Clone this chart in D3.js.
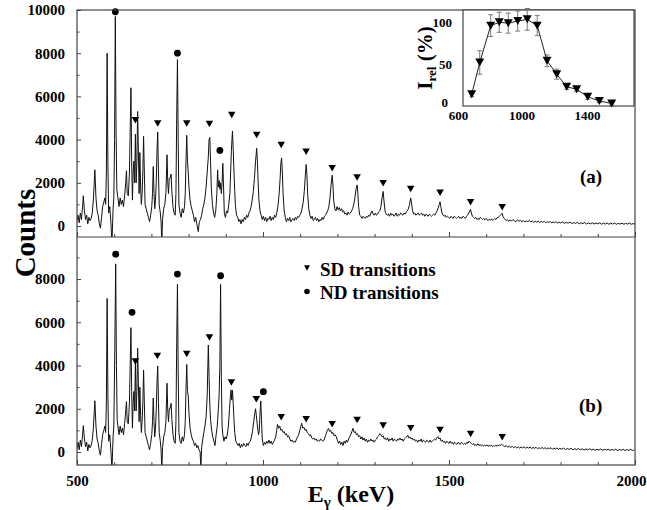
<!DOCTYPE html>
<html><head><meta charset="utf-8">
<script src="https://cdn.jsdelivr.net/npm/d3@7"></script>
<style>
body{margin:0;background:#fff;}
svg{display:block;font-family:"Liberation Serif","Times New Roman",serif;font-weight:bold;}
</style></head>
<body><svg id="c" width="647" height="510"></svg>
<script>
// ---------- DATA ----------
const xTickLabels = [500, 1000, 1500, 2000];
const yTopTicks = [0, 2000, 4000, 6000, 8000, 10000];
const yBotTicks = [0, 2000, 4000, 6000, 8000];
const insetXTicks = [600, 1000, 1400];
const insetYTicks = [0, 50, 100];

const topSpectrum = [[500,200],[503,500],[506,150],[509,600],[512,300],[515,900],[517,1400],[520,700],[523,300],[526,500],[529,100],[532,400],[535,250],[538,350],[541,600],[544,1200],[548,2600],[551,1300],[554,700],[557,500],[560,100],[563,-100],[566,400],[569,900],[572,1100],[575,1300],[577,1000],[579,2500],[581,8000],[583,3000],[585,600],[588,900],[591,200],[594,-800],[597,800],[599,1300],[601,4000],[603,9700],[605,4500],[607,1700],[610,1300],[613,900],[616,1300],[619,1000],[622,1200],[625,900],[628,1400],[631,2000],[633,2560],[635,1500],[638,1400],[641,2500],[645,6400],[647,3000],[649,1200],[651,2500],[653,3000],[655,2000],[657,4250],[659,2000],[661,3000],[663,5300],[665,3500],[667,1500],[669,3400],[671,1800],[673,1000],[675,1500],[677,2500],[679,4150],[681,2500],[683,1000],[686,800],[689,600],[692,400],[695,200],[698,500],[701,900],[703,1500],[705,2750],[707,1500],[709,800],[711,1200],[713,2000],[715,3500],[717,4350],[719,2500],[721,1000],[724,600],[726,200],[728,-800],[730,300],[733,800],[736,1000],[739,1500],[742,3300],[744,2000],[746,1500],[748,2200],[750,2200],[753,2400],[755,1600],[758,900],[761,600],[764,500],[766,1500],[768,5000],[770,7700],[772,4000],[774,1000],[777,600],[780,400],[783,800],[786,600],[789,900],[791,1500],[793,3000],[795,4200],[797,3000],[799,2500],[801,1800],[804,1200],[807,900],[810,700],[813,500],[816,200],[819,400],[822,100],[826,-260],[829,200],[832,300],[835,500],[838,800],[841,1000],[844,1300],[847,1800],[850,2500],[853,3200],[855,4000],[857,4100],[859,3000],[861,1800],[864,1000],[867,600],[870,400],[873,700],[876,1500],[878,2600],[880,1800],[882,2100],[884,1700],[886,2000],[888,1500],[890,2000],[892,2900],[894,1800],[896,600],[899,400],[902,700],[905,600],[908,1000],[911,1500],[913,2500],[915,3500],[917,4100],[918,4400],[920,3500],[922,2500],[924,1600],[926,900],[929,500],[932,400],[935,200],[938,300],[941,100],[944,300],[947,200],[950,400],[953,300],[956,500],[959,400],[962,600],[965,700],[968,900],[971,1200],[974,1600],[977,2200],[980,3000],[983,3600],[985,3000],[987,2000],[989,1200],[992,700],[995,500],[998,300],[1001,450],[1004,250],[1007,400],[1010,200],[1013,350],[1016,300],[1019,450],[1022,250],[1025,400],[1028,300],[1031,500],[1034,400],[1037,600],[1040,900],[1043,1400],[1046,2200],[1048,2900],[1050,3150],[1052,2500],[1054,1500],[1057,700],[1060,400],[1063,200],[1066,350],[1069,250],[1072,400],[1075,200],[1078,300],[1081,350],[1084,250],[1087,400],[1090,300],[1093,450],[1096,400],[1099,500],[1102,600],[1105,800],[1108,1100],[1111,1600],[1114,2400],[1116,2850],[1118,2400],[1120,1500],[1123,800],[1126,500],[1129,350],[1132,450],[1135,250],[1138,300],[1141,400],[1144,250],[1147,350],[1150,200],[1153,300],[1156,250],[1159,400],[1162,300],[1165,450],[1168,500],[1171,600],[1174,700],[1177,900],[1180,1300],[1183,1900],[1186,2350],[1188,1900],[1190,1200],[1193,800],[1196,700],[1199,900],[1202,750],[1205,850],[1208,700],[1211,800],[1214,650],[1217,700],[1220,550],[1223,600],[1226,500],[1229,650],[1232,550],[1235,600],[1238,700],[1241,800],[1244,1000],[1247,1300],[1250,1700],[1253,1900],[1255,1500],[1257,900],[1260,500],[1263,450],[1266,350],[1269,450],[1272,400],[1275,350],[1278,450],[1281,400],[1284,500],[1287,450],[1290,600],[1293,700],[1296,550],[1299,500],[1302,600],[1305,500],[1308,550],[1311,650],[1314,700],[1317,900],[1320,1300],[1323,1600],[1325,1200],[1328,700],[1331,550],[1334,500],[1337,550],[1340,450],[1343,600],[1346,500],[1349,550],[1352,450],[1355,500],[1358,600],[1361,450],[1364,550],[1367,500],[1370,600],[1373,550],[1376,500],[1379,600],[1382,550],[1385,650],[1388,700],[1391,800],[1394,1000],[1397,1300],[1399,1100],[1402,700],[1405,550],[1408,600],[1411,500],[1414,550],[1417,600],[1420,500],[1423,550],[1426,600],[1429,500],[1432,550],[1435,450],[1438,550],[1441,500],[1444,450],[1447,550],[1450,500],[1453,450],[1456,500],[1459,550],[1462,500],[1465,600],[1468,700],[1471,850],[1474,1000],[1476,1120],[1478,900],[1481,600],[1484,500],[1487,450],[1490,500],[1493,400],[1496,450],[1499,400],[1502,350],[1505,450],[1508,400],[1511,350],[1514,450],[1517,400],[1520,350],[1523,400],[1526,450],[1529,350],[1532,400],[1535,350],[1538,450],[1541,400],[1544,350],[1547,450],[1550,500],[1553,600],[1556,700],[1558,770],[1560,600],[1563,450],[1566,400],[1569,350],[1572,400],[1575,300],[1578,350],[1581,300],[1584,400],[1587,350],[1590,300],[1593,350],[1596,280],[1599,350],[1602,300],[1605,250],[1608,320],[1611,280],[1614,330],[1617,260],[1620,300],[1623,350],[1626,300],[1629,380],[1632,400],[1635,450],[1638,500],[1641,550],[1643,590],[1645,450],[1648,350],[1651,300],[1654,250],[1657,300],[1660,220],[1664,280],[1668,230],[1672,300],[1676,240],[1680,200],[1684,280],[1688,220],[1692,260],[1696,200],[1700,250],[1704,180],[1708,240],[1712,200],[1716,260],[1720,190],[1724,230],[1728,170],[1732,220],[1736,180],[1740,230],[1744,160],[1748,210],[1752,170],[1756,220],[1760,150],[1764,200],[1768,160],[1772,210],[1776,140],[1780,190],[1784,150],[1788,200],[1792,130],[1796,180],[1800,140],[1805,190],[1810,120],[1815,170],[1820,130],[1825,180],[1830,110],[1835,160],[1840,120],[1845,170],[1850,100],[1855,150],[1860,110],[1865,160],[1870,90],[1875,140],[1880,100],[1885,150],[1890,90],[1895,140],[1900,100],[1905,150],[1910,80],[1915,130],[1920,90],[1925,140],[1930,80],[1935,130],[1940,90],[1945,140],[1950,80],[1955,120],[1960,90],[1965,130],[1970,80],[1975,120],[1980,90],[1985,130],[1990,80],[1995,110],[2000,90]];

const bottomSpectrum = [[500,150],[503,450],[506,100],[509,550],[512,250],[515,800],[517,1220],[520,600],[523,250],[526,450],[529,50],[532,350],[535,200],[538,300],[541,550],[544,1100],[548,2370],[551,1200],[554,600],[557,400],[560,50],[563,-150],[566,350],[569,800],[572,1000],[575,1200],[577,900],[579,2300],[581,7100],[583,2700],[585,500],[588,800],[591,100],[594,-800],[597,700],[599,1200],[601,3800],[604,8700],[606,4000],[608,1500],[610,1200],[613,800],[616,1200],[619,900],[622,1100],[625,800],[628,1300],[631,1900],[633,2330],[635,1400],[638,1300],[641,2300],[645,5750],[647,2800],[649,1100],[651,2300],[653,2800],[655,1900],[657,4200],[659,1900],[661,2800],[663,4800],[665,3200],[667,1400],[669,3000],[671,1700],[673,900],[675,1400],[677,2300],[679,3790],[681,2300],[683,900],[686,700],[689,500],[692,300],[695,100],[698,400],[701,800],[703,1400],[705,2500],[707,1400],[709,700],[711,1100],[713,1900],[715,3200],[717,3980],[719,2300],[721,900],[724,500],[726,100],[728,-800],[730,200],[733,700],[736,900],[739,1400],[742,3180],[744,1900],[746,1400],[748,2000],[750,2000],[753,2250],[755,1500],[758,800],[761,500],[764,400],[766,1400],[768,5000],[770,7750],[772,3800],[774,900],[777,500],[780,400],[783,700],[786,500],[789,800],[791,1400],[793,2900],[795,4050],[797,2800],[799,2600],[801,1800],[804,1100],[807,800],[810,600],[813,500],[816,300],[819,400],[822,200],[825,300],[828,100],[831,0],[833,-800],[835,200],[838,600],[841,900],[844,1200],[847,1600],[850,2600],[853,4950],[855,3500],[857,2200],[859,1500],[862,1000],[865,700],[868,500],[871,300],[874,800],[877,1200],[880,2000],[882,2600],[884,4000],[886,7750],[888,3500],[890,1200],[892,800],[895,500],[898,700],[901,600],[904,800],[907,1200],[910,2000],[912,2500],[914,2870],[916,2400],[918,2850],[920,2200],[922,1500],[924,900],[927,500],[930,400],[933,300],[936,400],[939,200],[942,350],[945,250],[948,400],[951,300],[954,250],[957,400],[960,300],[963,450],[966,500],[969,700],[972,1000],[975,1400],[978,1800],[980,2000],[982,1700],[985,1200],[988,800],[990,1000],[992,1800],[994,2360],[996,1500],[998,600],[1001,300],[1004,450],[1007,350],[1010,500],[1013,400],[1016,550],[1019,400],[1022,500],[1025,350],[1028,450],[1031,550],[1034,700],[1037,1000],[1039,1280],[1042,1100],[1045,1200],[1048,1000],[1051,1050],[1054,900],[1057,950],[1060,800],[1063,850],[1066,700],[1069,750],[1072,600],[1075,500],[1078,550],[1081,450],[1084,500],[1087,450],[1090,600],[1093,700],[1096,800],[1099,1000],[1102,1200],[1104,1330],[1107,1100],[1110,1150],[1113,1000],[1116,1050],[1119,900],[1122,850],[1125,750],[1128,800],[1131,650],[1134,600],[1137,650],[1140,550],[1143,600],[1146,500],[1149,550],[1152,500],[1155,600],[1158,550],[1161,500],[1164,550],[1167,700],[1170,850],[1173,1000],[1176,1090],[1179,950],[1182,1000],[1185,850],[1188,900],[1191,750],[1194,800],[1197,700],[1200,550],[1203,400],[1206,500],[1209,350],[1212,450],[1215,300],[1218,500],[1221,400],[1224,550],[1227,450],[1230,600],[1233,700],[1236,800],[1239,950],[1242,1095],[1245,900],[1248,950],[1251,800],[1254,850],[1257,700],[1260,750],[1263,600],[1266,700],[1269,550],[1272,650],[1275,500],[1278,600],[1281,450],[1284,550],[1287,500],[1290,600],[1293,500],[1296,550],[1299,450],[1302,550],[1305,600],[1308,700],[1311,750],[1314,850],[1317,800],[1320,700],[1323,750],[1326,600],[1329,650],[1332,550],[1335,650],[1338,500],[1341,600],[1344,550],[1347,650],[1350,500],[1353,600],[1356,550],[1359,500],[1362,600],[1365,550],[1368,650],[1371,550],[1374,600],[1377,500],[1380,600],[1383,650],[1386,700],[1389,780],[1392,650],[1395,700],[1398,600],[1401,650],[1404,550],[1407,600],[1410,500],[1413,550],[1416,450],[1419,550],[1422,500],[1425,600],[1428,450],[1431,550],[1434,500],[1437,450],[1440,550],[1443,500],[1446,450],[1449,550],[1452,450],[1455,500],[1458,550],[1461,600],[1464,550],[1467,650],[1470,710],[1473,600],[1476,650],[1479,500],[1482,550],[1485,450],[1488,500],[1491,400],[1494,500],[1497,450],[1500,400],[1503,500],[1506,400],[1509,450],[1512,350],[1515,450],[1518,400],[1521,350],[1524,450],[1527,400],[1530,350],[1533,450],[1536,400],[1539,350],[1542,400],[1545,350],[1548,450],[1551,400],[1554,500],[1557,450],[1560,400],[1563,350],[1566,400],[1569,300],[1572,350],[1575,300],[1578,380],[1581,300],[1584,350],[1587,280],[1590,330],[1593,270],[1596,320],[1599,280],[1602,330],[1605,260],[1608,310],[1611,270],[1614,320],[1617,250],[1620,300],[1623,260],[1626,310],[1629,270],[1632,300],[1635,330],[1638,300],[1641,360],[1644,320],[1647,280],[1650,250],[1654,290],[1658,220],[1662,270],[1666,210],[1670,260],[1674,200],[1678,250],[1682,190],[1686,240],[1690,180],[1694,230],[1698,190],[1702,240],[1706,170],[1710,220],[1714,180],[1718,230],[1722,160],[1726,210],[1730,170],[1734,220],[1738,150],[1742,200],[1746,160],[1750,210],[1754,150],[1758,200],[1762,140],[1766,190],[1770,150],[1774,200],[1778,130],[1782,180],[1786,140],[1790,190],[1794,120],[1798,170],[1803,130],[1808,180],[1813,110],[1818,160],[1823,120],[1828,170],[1833,100],[1838,150],[1843,110],[1848,160],[1853,100],[1858,150],[1863,90],[1868,140],[1873,100],[1878,150],[1883,90],[1888,130],[1893,80],[1898,130],[1903,90],[1908,140],[1913,80],[1918,120],[1923,90],[1928,130],[1933,70],[1938,120],[1943,80],[1948,130],[1953,70],[1958,110],[1963,80],[1968,120],[1973,70],[1978,110],[1983,80],[1988,120],[1993,70],[1998,100]];

// marker positions [energy, counts]
const topSD = [[657,4900],[717,4740],[795,4740],[856,4720],[916,5140],[983,4210],[1049,3750],[1116,3440],[1186,2670],[1253,2240],[1323,1975],[1397,1710],[1476,1540],[1558,1100],[1643,865]];
const topND = [[603,9920],[770,8000],[884,3500]];
const bottomSD = [[657,4180],[716,4440],[795,4530],[856,5290],[915,3210],[982,2440],[1049,1610],[1116,1510],[1186,1280],[1253,1480],[1323,1220],[1397,1095],[1476,1017],[1558,830],[1643,680]];
const bottomND = [[604,9150],[648,6460],[770,8230],[886,8150],[1001,2790]];

// inset: relative intensity (%) of SD transitions
const insetEnergy = [696,745,812,864,919,977,1035,1096,1156,1215,1276,1337,1404,1475,1551];
const insetIntensity = [14,52,96,100,99,101.5,103.5,96,54,38,23,20,11,6,3];
const insetError = [3,14,13,12,12,12,13,12,7,6,3,3,3,2,2];

// ---------- DRAW ----------
const FONT = '"Liberation Serif","Times New Roman",serif';
const svg = d3.select("#c");
svg.append("rect").attr("width",647).attr("height",510).attr("fill","#fff");

const L=77, R=635, T=10, M=237, B=465;
const x = d3.scaleLinear().domain([500,2000]).range([L,R]);
const yTop = d3.scaleLinear().domain([0,10000]).range([226,10]);
const yBot = d3.scaleLinear().domain([0,8000]).range([452,279]);

const defs = svg.append("defs");
defs.append("clipPath").attr("id","clipTop").append("rect").attr("x",L).attr("y",T).attr("width",R-L).attr("height",M-T);
defs.append("clipPath").attr("id","clipBot").append("rect").attr("x",L).attr("y",M).attr("width",R-L).attr("height",B-M);

function spectrum(data, y, clip){
  svg.append("path").datum(data)
    .attr("clip-path",`url(#${clip})`)
    .attr("fill","none").attr("stroke","#111").attr("stroke-width",1)
    .attr("stroke-linejoin","round")
    .attr("d", d3.line().x(d=>x(d[0])).y(d=>y(d[1])));
}
spectrum(topSpectrum, yTop, "clipTop");
spectrum(bottomSpectrum, yBot, "clipBot");

function tri(w,h){ return `M${-w/2},${-h/2}L${w/2},${-h/2}L0,${h/2}Z`; }
function markers(sd, nd, y){
  svg.append("g").selectAll("path").data(sd).join("path")
    .attr("d",tri(7.5,6.5)).attr("fill","#000")
    .attr("transform",d=>`translate(${x(d[0])},${y(d[1])})`);
  svg.append("g").selectAll("circle").data(nd).join("circle")
    .attr("r",3.4).attr("fill","#000")
    .attr("cx",d=>x(d[0])).attr("cy",d=>y(d[1]));
}
markers(topSD, topND, yTop);
markers(bottomSD, bottomND, yBot);

// frame
const frameColor = "#444";
svg.append("rect").attr("x",L).attr("y",T).attr("width",R-L).attr("height",B-T)
  .attr("fill","none").attr("stroke",frameColor).attr("stroke-width",1.2);
svg.append("line").attr("x1",L).attr("x2",R).attr("y1",M).attr("y2",M)
  .attr("stroke",frameColor).attr("stroke-width",1.2);

function styleAxis(g, fs){
  g.select(".domain").remove();
  g.selectAll(".tick line").attr("stroke",frameColor);
  g.selectAll("text").attr("font-size",fs).attr("font-weight","bold")
    .attr("font-family",FONT).attr("fill","#000");
}
// y axes
function yAxis(y, ticks, lo, hi){
  const g = svg.append("g").attr("transform",`translate(${L},0)`)
    .call(d3.axisLeft(y).tickValues(ticks).tickSize(-4).tickPadding(12).tickFormat(d3.format("d")));
  styleAxis(g,15);
  const minor = [];
  for (let v=lo; v<=hi; v+=1000) if (v%2000!==0) minor.push(v);
  const gm = svg.append("g").attr("transform",`translate(${L},0)`)
    .call(d3.axisLeft(y).tickValues(minor).tickSize(-2.5).tickFormat(""));
  styleAxis(gm,15);
}
yAxis(yTop, yTopTicks, 1000, 9000);
yAxis(yBot, yBotTicks, 1000, 9000);

// x axes
const xMinor = d3.range(600,2000,100).filter(v=>v%500!==0);
function xAxis(yPos, labels){
  const g = svg.append("g").attr("transform",`translate(0,${yPos})`)
    .call(d3.axisBottom(x).tickValues(xTickLabels).tickSize(-5).tickPadding(10)
      .tickFormat(labels ? d3.format("d") : ""));
  styleAxis(g,15);
  if (labels) g.selectAll(".tick text").filter(d=>d===2000).attr("dx",-4);
  const gm = svg.append("g").attr("transform",`translate(0,${yPos})`)
    .call(d3.axisBottom(x).tickValues(xMinor).tickSize(-3).tickFormat(""));
  styleAxis(gm,15);
}
xAxis(B, true);
xAxis(M, false);

// axis titles
svg.append("text").attr("transform","translate(35,233) rotate(-90)").attr("font-family",FONT)
  .attr("text-anchor","middle").attr("font-size",29).text("Counts");
const xt = svg.append("text").attr("x",351).attr("y",502).attr("text-anchor","middle")
  .attr("font-size",24).attr("font-family",FONT);
xt.append("tspan").text("E");
xt.append("tspan").attr("font-size",15).attr("dy",5).text("γ");
xt.append("tspan").attr("dy",-5).text(" (keV)");

// panel labels
svg.append("text").attr("x",580).attr("y",183).attr("font-size",19).attr("font-family",FONT).text("(a)");
svg.append("text").attr("x",579).attr("y",412).attr("font-size",19).attr("font-family",FONT).text("(b)");

// legend
svg.append("path").attr("d",tri(6,5.5)).attr("transform","translate(307,268)").attr("fill","#000");
svg.append("text").attr("x",320).attr("y",275.5).attr("font-size",19).attr("font-family",FONT).text("SD transitions");
svg.append("circle").attr("cx",307).attr("cy",291.5).attr("r",2.8).attr("fill","#000");
svg.append("text").attr("x",320).attr("y",298.5).attr("font-size",19).attr("font-family",FONT).text("ND transitions");

// ---------- INSET ----------
const iL=463, iR=634, iT=10, iB=106;
const xi = d3.scaleLinear().domain([600,1400]).range([456,587]);
const yi = d3.scaleLinear().domain([0,100]).range([106,22.3]);
svg.append("rect").attr("x",iL).attr("y",iT).attr("width",iR-iL).attr("height",iB-iT)
  .attr("fill","#fff").attr("stroke",frameColor).attr("stroke-width",1.2);

const inset = insetEnergy.map((e,i)=>({e, v:insetIntensity[i], err:insetError[i]}));
const eb = svg.append("g").attr("stroke","#777").attr("stroke-width",1);
inset.forEach(d=>{
  const cx = xi(d.e);
  eb.append("line").attr("x1",cx).attr("x2",cx).attr("y1",yi(d.v-d.err)).attr("y2",yi(d.v+d.err));
  eb.append("line").attr("x1",cx-2.5).attr("x2",cx+2.5).attr("y1",yi(d.v-d.err)).attr("y2",yi(d.v-d.err));
  eb.append("line").attr("x1",cx-2.5).attr("x2",cx+2.5).attr("y1",yi(d.v+d.err)).attr("y2",yi(d.v+d.err));
});
svg.append("path").datum(inset).attr("fill","none").attr("stroke","#222").attr("stroke-width",1)
  .attr("d",d3.line().x(d=>xi(d.e)).y(d=>yi(d.v)));
svg.append("g").selectAll("path").data(inset).join("path")
  .attr("d",tri(9,8)).attr("fill","#000")
  .attr("transform",d=>`translate(${xi(d.e)},${yi(d.v)})`);

const gix = svg.append("g").attr("transform",`translate(0,${iB})`)
  .call(d3.axisBottom(xi).tickValues(insetXTicks).tickSize(0).tickPadding(5).tickFormat(d3.format("d")));
styleAxis(gix,13);
gix.selectAll(".tick text").filter(d=>d===600).attr("dx",2);
const giy = svg.append("g").attr("transform",`translate(${iL},0)`)
  .call(d3.axisLeft(yi).tickValues(insetYTicks).tickSize(0).tickPadding(11).tickFormat(d3.format("d")));
styleAxis(giy,13);
giy.selectAll(".tick text").filter(d=>d===0).attr("dy","0.05em").attr("dx",-4);

const il = svg.append("text").attr("transform","translate(432,58) rotate(-90)").attr("font-family",FONT)
  .attr("text-anchor","middle").attr("font-size",21);
il.append("tspan").text("I");
il.append("tspan").attr("font-size",13).attr("dy",4).text("rel");
il.append("tspan").attr("dy",-4).text(" (%)");
</script>
</body></html>
